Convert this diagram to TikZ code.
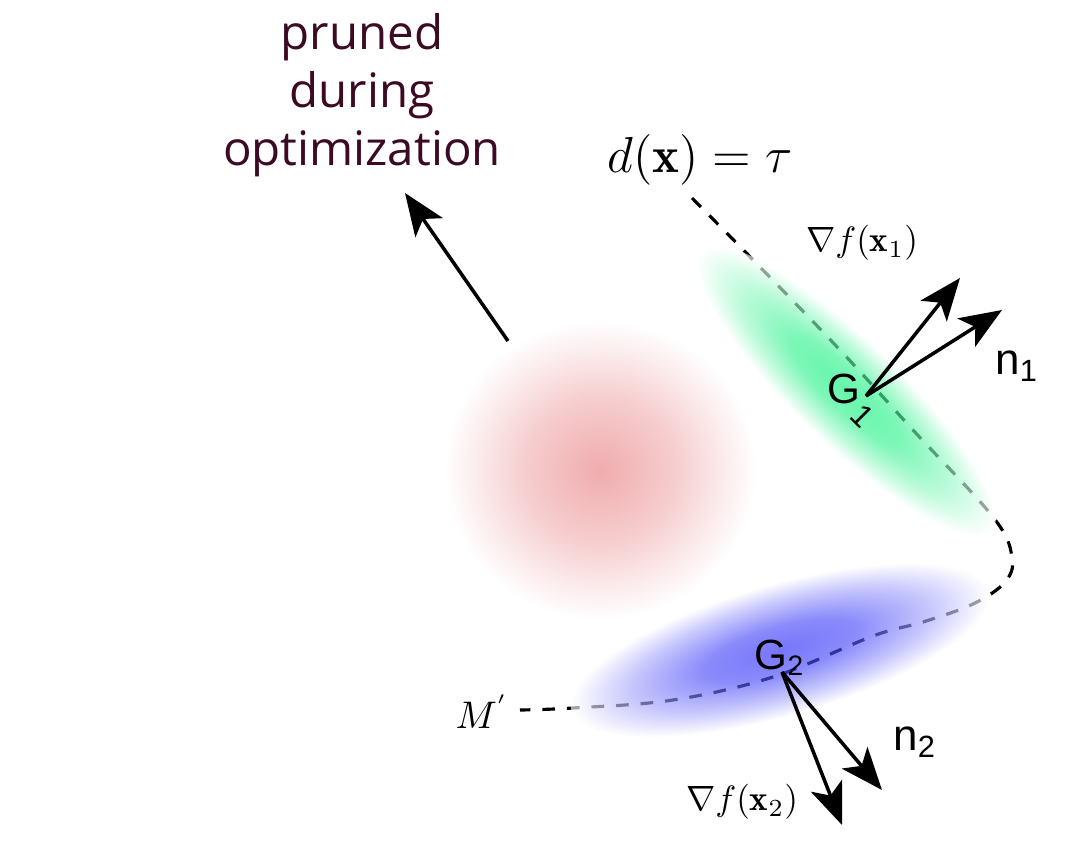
\documentclass[tikz,border=0pt]{standalone}
\usepackage{amsmath}
\usepackage{fontspec}
\usetikzlibrary{arrows.meta}
\newfontfamily\labelfont{Liberation Sans}
\newfontfamily\notefont{Open Sans}
\definecolor{prunedred}{RGB}{60,10,35}
\definecolor{blobred}{RGB}{240,172,174}
\definecolor{blobgreen}{RGB}{17,240,124}
\definecolor{blobblue}{RGB}{45,45,248}
% soft radial profiles for the clusters
\pgfdeclareradialshading{redblob}{\pgfpoint{0bp}{0bp}}{color(0bp)=(blobred); color(12bp)=(blobred!60!white); color(20bp)=(blobred!22!white); color(25bp)=(white); color(50bp)=(white)}
\pgfdeclareradialshading{greenblob}{\pgfpoint{0bp}{0bp}}{color(0bp)=(blobgreen); color(9bp)=(blobgreen!85!white); color(18bp)=(blobgreen!40!white); color(25bp)=(white); color(50bp)=(white)}
\pgfdeclareradialshading{blueblob}{\pgfpoint{0bp}{0bp}}{color(0bp)=(blobblue); color(9bp)=(blobblue!85!white); color(18bp)=(blobblue!40!white); color(25bp)=(white); color(50bp)=(white)}
\tikzset{
    >={Stealth[length=12pt,width=9.5pt,inset=3pt]}, % big filled heads
    vec/.style={->, line width=1pt}, % gradient and normal vectors
    level/.style={dash pattern=on 3.6pt off 3.4pt, line width=0.9pt}, % the level set
    blob/.style={opacity=0.65}, % soft clusters over the curve
    glabel/.style={font=\labelfont\fontsize{12}{14}\selectfont},
    nlabel/.style={font=\labelfont\fontsize{12.5}{15}\selectfont},
}
\begin{document}
\begin{tikzpicture}
  \useasboundingbox (0,0) rectangle (10.76,-8.60);

  % pruned cluster
  \shade[shading=redblob] (6.00,-4.70) ellipse [x radius=1.57, y radius=1.50];
  \node[font=\notefont\fontsize{13.5}{16.5}\selectfont, text=prunedred, align=center] (pruned) at (3.62,-0.95) {pruned\\during\\optimization};
  \coordinate (p0) at (5.08,-3.41);
  \coordinate (p1) at (4.05,-1.93);
  \draw[vec] (p0) -- (p1);

  % level set d(x) = tau
  \node (lvl) at (7.00,-1.60) {\fontsize{14.5}{17}\selectfont $d(\mathbf{x})=\tau$};
  \node (mp) at (4.82,-7.12) {\fontsize{11}{13}\selectfont $M^{'}$};
  \draw[level] plot[smooth, tension=0.6] coordinates {(6.92,-1.98) (7.60,-2.67) (8.40,-3.50) (9.13,-4.30) (9.93,-5.17) (10.12,-5.57) (10.05,-5.82) (9.73,-6.04) (9.23,-6.22) (8.73,-6.36) (7.73,-6.77) (6.73,-7.00) (5.73,-7.08) (5.20,-7.10)};

  % clusters on the level set
  \shade[shading=greenblob, blob, transform canvas={shift={(8.46,-3.91)}, rotate=-44}] (0,0) ellipse [x radius=2.02, y radius=0.52];
  \shade[shading=blueblob, blob, transform canvas={shift={(7.80,-6.50)}, rotate=16}] (0,0) ellipse [x radius=2.17, y radius=0.66];

  % G1
  \node[glabel, anchor=base west, inner sep=0pt] (G1) at (8.27,-4.03) {G\hspace{-3.5pt}\raisebox{-4pt}{\rotatebox{-45}{\labelfont\fontsize{9}{11}\selectfont 1}}};
  \coordinate (g1) at (8.66,-3.96);
  \coordinate (grad1) at (9.60,-2.78);
  \coordinate (norm1) at (10.02,-3.10);
  \draw[vec] (g1) -- (grad1);
  \draw[vec] (g1) -- (norm1);
  \node (gl1) at (8.62,-2.43) {$\nabla f(\mathbf{x}_1)$};
  \node[nlabel] (n1) at (10.17,-3.66) {n\textsubscript{1}};

  % G2
  \node[glabel] (G2) at (7.80,-6.58) {G\textsubscript{2}};
  \coordinate (g2) at (7.82,-6.72);
  \coordinate (grad2) at (8.42,-8.25);
  \coordinate (norm2) at (8.82,-7.90);
  \draw[vec] (g2) -- (grad2);
  \draw[vec] (g2) -- (norm2);
  \node (gl2) at (7.42,-8.02) {$\nabla f(\mathbf{x}_2)$};
  \node[nlabel] (n2) at (9.15,-7.42) {n\textsubscript{2}};
\end{tikzpicture}
\end{document}
